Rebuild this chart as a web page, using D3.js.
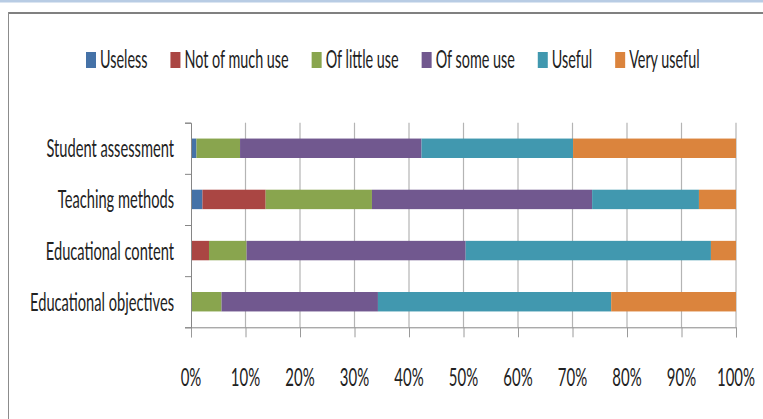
<!DOCTYPE html>
<html>
<head>
<meta charset="utf-8">
<script src="https://cdn.jsdelivr.net/npm/d3@7"></script>
<style>
  body { margin: 0; background: #fff; }
  text { font-family: Lato, "Open Sans", sans-serif; fill: #222; }
</style>
</head>
<body>
<div id="chart"></div>
<script>
// categories, top to bottom
var categories = ["Student assessment", "Teaching methods", "Educational content", "Educational objectives"];
var seriesNames = ["Useless", "Not of much use", "Of little use", "Of some use", "Useful", "Very useful"];
var seriesColors = ["#4572A7", "#AA4643", "#89A54E", "#71588F", "#4198AF", "#DB843D"];

// percent of answers per category (same order as categories)
var useless    = [1.0, 2.1, 0.0, 0.0];
var notMuchUse = [0.0, 11.6, 3.3, 0.0];
var littleUse  = [8.0, 19.5, 6.9, 5.6];
var someUse    = [33.3, 40.4, 40.2, 28.7];
var useful     = [27.8, 19.6, 45.0, 42.8];
var veryUseful = [29.9, 6.8, 4.6, 22.9];

var xTicks = [0, 0.1, 0.2, 0.3, 0.4, 0.5, 0.6, 0.7, 0.8, 0.9, 1];

var W = 763, H = 419;
var sx = 0.575; // horizontal squeeze of all texts

var allSeries = [useless, notMuchUse, littleUse, someUse, useful, veryUseful];
var rows = categories.map(function(c, i) {
  var r = { category: c };
  seriesNames.forEach(function(s, j) { r[s] = allSeries[j][i]; });
  return r;
});

var stacked = d3.stack().keys(seriesNames).offset(d3.stackOffsetExpand)(rows);

var svg = d3.select("#chart").append("svg")
  .attr("width", W).attr("height", H);

// frame
svg.append("rect").attr("x", 0).attr("y", 0).attr("width", W).attr("height", 2.5).attr("fill", "#B8CCE4");
svg.append("line").attr("x1", 8).attr("x2", W).attr("y1", 13).attr("y2", 13)
  .attr("stroke", "#808080").attr("stroke-width", 2);
svg.append("line").attr("x1", 8.5).attr("x2", 8.5).attr("y1", 12).attr("y2", H)
  .attr("stroke", "#8c8c8c").attr("stroke-width", 1);

var x = d3.scaleLinear().domain([0, 1]).range([191, 736]);
var y = d3.scaleBand().domain(categories).range([122.7, 327.3]).paddingInner(0.62).paddingOuter(0.31);
var yEdge = d3.scaleLinear().domain([0, categories.length]).range([122.7, 327.3]);

function squeezed(g, px, py, str, anchor, size) {
  return g.append("text")
    .attr("transform", "translate(" + px + "," + py + ") scale(" + sx + ",1)")
    .attr("text-anchor", anchor)
    .style("font-size", size + "px")
    .text(str);
}

// gridlines
svg.append("g").selectAll("line")
  .data(xTicks.slice(1))
  .enter().append("line")
  .attr("x1", d => x(d)).attr("x2", d => x(d))
  .attr("y1", yEdge(0)).attr("y2", yEdge(categories.length))
  .attr("stroke", "#b4b4b4").attr("stroke-width", 1.2);

// bars
svg.append("g").selectAll("g")
  .data(stacked)
  .enter().append("g")
  .attr("fill", (d, i) => seriesColors[i])
  .selectAll("rect")
  .data(d => d)
  .enter().append("rect")
  .attr("x", d => x(d[0]))
  .attr("width", d => x(d[1]) - x(d[0]))
  .attr("y", d => y(d.data.category))
  .attr("height", y.bandwidth());

// x axis
var xAxis = svg.append("g")
  .attr("transform", "translate(0," + yEdge(categories.length) + ")")
  .call(d3.axisBottom(x).tickValues(xTicks).tickSize(10).tickFormat(""));
xAxis.select(".domain").attr("stroke", "#868686");
xAxis.selectAll(".tick line").attr("stroke", "#9a9a9a");
xTicks.forEach(function(t) {
  squeezed(svg, x(t), 385.5, d3.format(".0%")(t), "middle", 26);
});

// y axis
var yAxis = svg.append("g")
  .attr("transform", "translate(" + x(0) + ",0)")
  .call(d3.axisLeft(yEdge).ticks(categories.length).tickSize(6).tickFormat(""));
yAxis.select(".domain").attr("stroke", "#868686");
yAxis.selectAll(".tick line").attr("stroke", "#868686");
categories.forEach(function(c) {
  squeezed(svg, 174, y(c) + y.bandwidth() / 2 + 9, c, "end", 25.5);
});

// legend
var lx = 86;
seriesNames.forEach(function(s, i) {
  svg.append("rect").attr("x", lx).attr("y", 52).attr("width", 10).attr("height", 16)
    .attr("fill", seriesColors[i]);
  var t = squeezed(svg, lx + 14, 68, s, "start", 25);
  lx += 14 + t.node().getComputedTextLength() * sx + 23;
});
</script>
</body>
</html>
